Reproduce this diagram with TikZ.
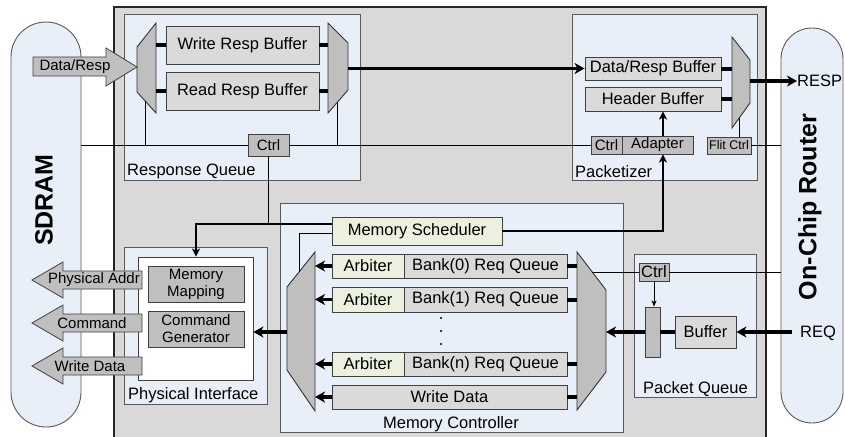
\documentclass[tikz,border=0pt]{standalone}
\usepackage{fontspec}
\setmainfont{Liberation Sans}
\usetikzlibrary{arrows.meta}
\definecolor{bggray}{HTML}{D9D9D9}
\definecolor{lgray}{HTML}{DADADA}
\definecolor{dgray}{HTML}{BFBFBF}
\definecolor{lblue}{HTML}{E9EFF8}
\definecolor{lgreen}{HTML}{EBF1DE}
\newcommand\fsA{\fontsize{16.5}{19}\selectfont}
\newcommand\fsB{\fontsize{15}{17}\selectfont}
\newcommand\fsC{\fontsize{12.5}{14}\selectfont}
\newcommand\fsBig{\fontsize{25}{28}\selectfont\bfseries}
\newcommand\mybox[7]{\node[#6, minimum width={(#4)-(#2)}, minimum height={(#5)-(#3)}] (#1) at ({((#2)+(#4))/2},{((#3)+(#5))/2}) {#7};}
\begin{document}
\begin{tikzpicture}[x=1pt,y=-1pt,
  thinl/.style={draw=black, line width=0.9pt},
  bar/.style={line width=4pt},
  fat/.style={line width=3.5pt, -{Stealth[length=10pt,width=11pt,inset=3pt]}},
  med/.style={line width=2.5pt},
  meda/.style={line width=2.5pt, -{Stealth[length=8pt,width=8pt,inset=2pt]}},
  thina/.style={line width=0.9pt, -{Stealth[length=6pt,width=5pt,inset=1.5pt]}},
  region/.style={draw=black!65, line width=0.8pt, fill=lblue, inner sep=0pt},
  lbuf/.style={draw=black!75, line width=0.9pt, fill=lgray, inner sep=0pt, font=\fsA},
  dbuf/.style={draw=black!75, line width=0.9pt, fill=dgray, inner sep=0pt, font=\fsA},
  gbuf/.style={draw=black!75, line width=0.9pt, fill=lgreen, inner sep=0pt, font=\fsA},
  muxs/.style={draw=black!80, line width=0.9pt, fill=dgray},
  sig/.style={draw=black!75, line width=0.8pt, fill=dgray},
  lbl/.style={inner sep=0pt, font=\fsA},
  pill/.style={draw=black!65, line width=0.9pt, fill=lblue, inner sep=0pt},
]
\useasboundingbox (0,0) rectangle (845,436);
% outer pills
\node[pill, rounded corners=35pt, minimum width=70, minimum height=405] (sdram) at (46,224.5) {};
\node[pill, rounded corners=31pt, minimum width=62, minimum height=395] (router) at (812,225.5) {};
\node[rotate=90, font=\fsBig, inner sep=0pt] (sdramt) at (44,200) {SDRAM};
\node[rotate=90, font=\fsBig, inner sep=0pt] (routert) at (810,207) {On-Chip Router};
% main box
\node[draw=black!85, line width=1.2pt, fill=bggray, minimum width=652, minimum height=432, inner sep=0pt] (main) at (440,223) {};
% regions
\mybox{rq}{124}{14}{360}{180}{region}{}
\mybox{pk}{572}{14}{757}{180}{region}{}
\mybox{mc}{280}{203}{623}{432}{region}{}
\mybox{pq}{634}{254}{756}{397}{region}{}
\mybox{pi}{124}{247}{267}{404}{region}{}
\mybox{piw}{138}{257}{253}{380}{draw=black!75, line width=0.9pt, fill=white, inner sep=0pt}{}
\node[lbl, anchor=base west] (rql) at (127,175) {Response Queue};
\node[lbl, anchor=base west] (pkl) at (575,177) {Packetizer};
\node[lbl, anchor=base west] (pil) at (128,399) {Physical Interface};
\node[lbl, anchor=base] (mcl) at (451,428) {Memory Controller};
\node[lbl, anchor=base west] (pql) at (643,393) {Packet Queue};
% ---------- Response Queue ----------
\draw[muxs] (156,23) -- (137,47) -- (137,92) -- (156,113) -- cycle;
\draw[muxs] (328,23) -- (348,43) -- (348,90) -- (328,113) -- cycle;
\mybox{wrb}{166}{26}{319}{64}{lbuf}{Write Resp Buffer}
\mybox{rrb}{166}{72}{319}{110}{lbuf}{Read Resp Buffer}
\coordinate (rqmLa) at (156,45);
\coordinate (rqmLb) at (156,91);
\coordinate (rqmRa) at (328,45);
\coordinate (rqmRb) at (328,91);
\draw[bar] (rqmLa) -- (wrb.west);
\draw[bar] (rqmLb) -- (rrb.west);
\draw[bar] (wrb.east) -- (rqmRa);
\draw[bar] (rrb.east) -- (rqmRb);
\mybox{rqc}{248}{134}{289}{156}{dbuf,font=\fsB}{Ctrl}
% Data/Resp arrow
\draw[sig] (33,57) -- (106,57) -- (106,48) -- (137,67) -- (106,86) -- (106,76) -- (33,76) -- cycle;
\node[font=\fsB, inner sep=0pt] (drt) at (75,67) {Data/Resp};
% ---------- Packetizer ----------
\draw[muxs] (732,37) -- (750,60) -- (750,103) -- (732,128) -- cycle;
\mybox{drb}{585}{57}{721}{80}{lbuf}{Data/Resp Buffer}
\mybox{hb}{585}{87}{721}{111}{lbuf}{Header Buffer}
\coordinate (pkma) at (732,68.5);
\coordinate (pkmb) at (732,99);
\draw[bar] (drb.east) -- (pkma);
\draw[bar] (hb.east) -- (pkmb);
\mybox{pkc}{591}{136}{622}{154}{dbuf,font=\fsB}{Ctrl}
\mybox{ad}{622}{136}{693}{154}{dbuf,font=\fsB}{Adapter}
\mybox{fc}{707}{137}{751}{154}{dbuf,font=\fsC}{Flit Ctrl}
\coordinate (pkmo) at (750,81);
\node[lbl, anchor=west] (resp) at (797,81) {RESP};
\draw[fat] (pkmo) -- (resp.west);
\coordinate (pkmbot) at (739,118);
\draw[thinl] (pkmbot) -- (pkmbot |- fc.north);
\draw[thinl] (fc.east) -- (fc.east -| router.west);
% main response arrow
\coordinate (rqmo) at (348,68.5);
\draw[fat] (rqmo) -- (drb.west);
% control line y=145
\coordinate (rqv1) at (145,100.8);
\coordinate (rqv2) at (337,102.6);
\draw[thinl] (rqc.west -| sdram.east) -- (rqc.west);
\draw[thinl] (rqc.east) -- (pkc.west);
\draw[thinl] (rqv1) -- (rqv1 |- rqc.west);
\draw[thinl] (rqv2) -- (rqv2 |- rqc.east);
% ---------- Memory Controller ----------
\mybox{ms}{332}{217}{502}{245}{gbuf}{Memory Scheduler}
\draw[muxs] (315,252) -- (287,287) -- (287,370) -- (315,411) -- cycle;
\draw[muxs] (577,252) -- (606,290) -- (606,372) -- (577,410) -- cycle;
\mybox{ar0}{332}{254}{404}{278}{gbuf}{Arbiter}
\mybox{bq0}{404}{254}{567}{278}{lbuf}{Bank(0) Req Queue}
\mybox{ar1}{332}{287}{404}{312}{gbuf}{Arbiter}
\mybox{bq1}{404}{287}{567}{312}{lbuf}{Bank(1) Req Queue}
\mybox{arn}{332}{352}{404}{376}{gbuf}{Arbiter}
\mybox{bqn}{404}{352}{567}{376}{lbuf}{Bank(n) Req Queue}
\mybox{wd}{332}{385}{567}{409}{lbuf}{Write Data}
\fill (441,318) circle (1.1);
\fill (441,331) circle (1.1);
\fill (441,344) circle (1.1);
\foreach \n in {ar0,ar1,arn,wd} {
  \draw[fat] (\n.west) -- (\n.west -| 315,0);
}
\foreach \n in {bq0,bq1,bqn,wd} {
  \draw[bar] (\n.east) -- (\n.east -| 577,0);
}
% scheduler paths
\coordinate (msR) at (502,231);
\coordinate (adx) at (663,231);
\draw[meda] (msR) -- (adx) -- (adx |- ad.south);
\draw[meda] (adx |- ad.north) -- (adx |- hb.south);
\coordinate (msL) at (332,224);
\coordinate (pik) at (196,224);
\draw[meda] (msL) -- (pik) -- (pik |- piw.north);
\draw[thinl] (rqc.south) -- (rqc.south |- msL);
\coordinate (msL2) at (332,233);
\coordinate (mxc) at (299,233);
\draw[thinl] (msL2) -- (mxc) -- (299,272);
% mux to physical interface
\coordinate (mcmo) at (287,332);
\draw[fat] (mcmo) -- (mcmo -| piw.east);
% ---------- Packet Queue ----------
\mybox{pqc}{639}{263}{669}{281}{dbuf,font=\fsA}{Ctrl}
\mybox{tall}{645}{307}{660}{357}{dbuf}{}
\mybox{buf}{675}{316}{736}{348}{lbuf}{Buffer}
\coordinate (mcmr) at (591.5,272);
\draw[thinl] (mcmr) -- (pqc.west);
\draw[thinl] (pqc.east) -- (pqc.east -| router.west);
\draw[thina] (pqc.south) -- (pqc.south |- tall.north);
\draw[bar] (tall.east) -- (buf.west);
\coordinate (mcmi) at (606,332);
\draw[fat] (tall.west) -- (mcmi);
\node[lbl, anchor=west] (req) at (800,333) {REQ};
\coordinate (reqs) at (792,332);
\draw[fat] (reqs) -- (buf.east);
% ---------- Physical Interface ----------
\mybox{mm}{148}{266}{244}{302}{dbuf,font=\fsB,align=center}{Memory\\Mapping}
\mybox{cg}{148}{311}{244}{347}{dbuf,font=\fsB,align=center}{Command\\Generator}
\draw[sig] (142,271) -- (63,271) -- (63,262) -- (32,280) -- (63,298) -- (63,289) -- (142,289) -- cycle;
\node[font=\fsB, inner sep=0pt] (pat) at (94,280) {Physical Addr};
\draw[sig] (142,314) -- (63,314) -- (63,305) -- (32,323) -- (63,341) -- (63,332) -- (142,332) -- cycle;
\node[font=\fsB, inner sep=0pt] (cmt) at (92,323) {Command};
\draw[sig] (142,357) -- (63,357) -- (63,348) -- (32,366) -- (63,384) -- (63,375) -- (142,375) -- cycle;
\node[font=\fsB, inner sep=0pt] (wdt) at (90,366) {Write Data};
\end{tikzpicture}
\end{document}
